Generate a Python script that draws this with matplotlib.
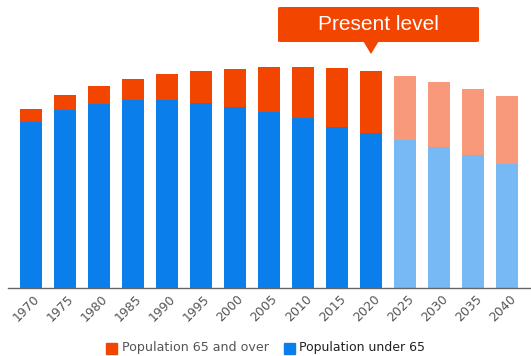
import matplotlib
matplotlib.use("Agg")
import matplotlib.pyplot as plt
from matplotlib.patches import FancyBboxPatch, Polygon
import matplotlib.transforms as mtransforms

years = ["1970", "1975", "1980", "1985", "1990", "1995", "2000", "2005",
         "2010", "2015", "2020", "2025", "2030", "2035", "2040"]
under65 = [97.1, 104.1, 107.6, 110.0, 110.0, 108.2, 105.8, 102.9,
           99.4, 94.2, 90.6, 86.5, 82.5, 77.8, 72.5]
over65 = [7.6, 8.8, 10.5, 12.3, 15.2, 18.7, 22.2, 26.3,
          29.8, 34.5, 36.3, 37.4, 38.0, 38.6, 39.8]
projected = [False] * 11 + [True] * 4
present_index = 10

C_OLD = "#F24500"
C_YOUNG = "#0A7FEB"
C_OLD_P = "#F7997A"
C_YOUNG_P = "#77B9F5"

W, H = 531, 356
fig = plt.figure(figsize=(W / 100, H / 100), dpi=100)
ax = fig.add_axes([8 / W, (H - 288) / H, (W - 8) / W, 288 / H])

x = list(range(len(years)))
young_cols = [C_YOUNG_P if p else C_YOUNG for p in projected]
old_cols = [C_OLD_P if p else C_OLD for p in projected]
ax.bar(x, under65, width=0.65, color=young_cols, zorder=2)
ax.bar(x, over65, width=0.65, bottom=under65, color=old_cols, zorder=2)

ax.set_xlim((8 - 31) / 34, (531 - 31) / 34)
ax.set_ylim(0, 288 / 1.71)

for s in ["top", "right", "left"]:
    ax.spines[s].set_visible(False)
ax.spines["bottom"].set_color("#666666")
ax.spines["bottom"].set_linewidth(1.0)
ax.set_yticks([])
ax.set_xticks(x)
ax.set_xticklabels(years, rotation=45, ha="right", rotation_mode="anchor",
                   fontsize=9, color="#555555")
ax.tick_params(axis="x", length=0, pad=3)
offset = mtransforms.ScaledTranslation(1.5 / 72, 0, fig.dpi_scale_trans)
for lab in ax.get_xticklabels():
    lab.set_transform(lab.get_transform() + offset)

# Callout "Present level"
tip_y = under65[present_index] + over65[present_index] + 9.9
box_x0, box_x1 = (278 - 31) / 34, (479 - 31) / 34
box_y0, box_y1 = (288 - 42) / 1.71, (288 - 7) / 1.71
box = FancyBboxPatch((box_x0, box_y0), box_x1 - box_x0, box_y1 - box_y0,
                     boxstyle="round,pad=0,rounding_size=0.12",
                     mutation_aspect=1 / 0.3,
                     facecolor=C_OLD, edgecolor="none", zorder=3, clip_on=False)
ax.add_patch(box)
tri = Polygon([[present_index - 0.22, box_y0 + 0.2], [present_index + 0.22, box_y0 + 0.2],
               [present_index, tip_y]], closed=True, facecolor=C_OLD,
              edgecolor="none", zorder=3, clip_on=False)
ax.add_patch(tri)
ax.text((box_x0 + box_x1) / 2, (box_y0 + box_y1) / 2, "Present level",
        ha="center", va="center", color="white", fontsize=15,
        family="Liberation Sans", zorder=4)

# Legend
fig.patches.append(plt.Rectangle((106 / W, (H - 354) / H), 11 / W, 11 / H,
                                 transform=fig.transFigure, color=C_OLD))
fig.text(122 / W, (H - 348) / H, "Population 65 and over", fontsize=9.1,
         color="#555555", va="center", ha="left")
fig.patches.append(plt.Rectangle((284 / W, (H - 354) / H), 11 / W, 11 / H,
                                 transform=fig.transFigure, color=C_YOUNG))
fig.text(299 / W, (H - 348) / H, "Population under 65", fontsize=9.0,
         color="#222222", va="center", ha="left")

fig.savefig("out.png", dpi=100)
